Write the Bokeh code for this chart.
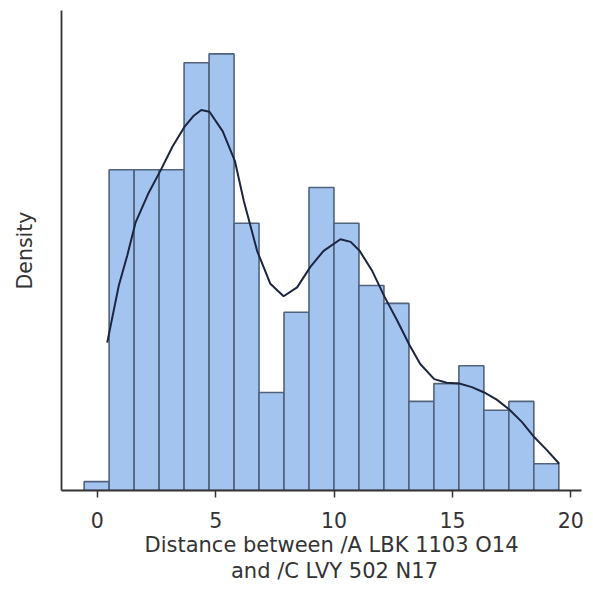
from bokeh.plotting import figure
from bokeh.models import Range1d, FixedTicker, Title, ColumnDataSource
from bokeh.embed import file_html
from bokeh.resources import INLINE

# ---- data ----
bin_start = -0.553
bin_width = 1.055
counts = [1, 36, 36, 36, 48, 49, 30, 11, 20, 34, 30, 23, 21, 10, 12, 14, 9, 10, 3]

# KDE curve (x, height in count units)
kde_x = [0.42, 0.91, 1.27, 1.62, 2.15, 2.67, 3.18, 3.68, 4.05, 4.39, 4.74, 5.30,
         5.81, 6.19, 6.75, 7.31, 7.87, 8.44, 9.00, 9.56, 10.27, 10.70, 11.08,
         11.62, 12.14, 12.66, 13.19, 13.64, 14.23, 14.76, 15.29, 15.82, 16.34,
         16.87, 17.40, 17.93, 18.45, 19.00, 19.51]
kde_c = [16.6, 23.0, 26.4, 30.1, 33.3, 35.9, 38.6, 40.8, 42.0, 42.7, 42.5, 40.3,
         37.0, 32.5, 26.9, 23.2, 21.8, 22.8, 25.1, 26.9, 28.2, 27.9, 26.9,
         24.6, 21.7, 19.1, 16.3, 14.2, 12.5, 12.1, 12.0, 11.6, 11.0,
         10.2, 9.1, 7.7, 6.0, 4.5, 3.0]

x_ticks = [0, 5, 10, 15, 20]
x_label_lines = ["Distance between /A LBK 1103 O14", "and /C LVY 502 N17"]
y_label = "Density"

# ---- derived ----
n_total = sum(counts)
scale = 1.0 / (n_total * bin_width)
lefts = [bin_start + i * bin_width for i in range(len(counts))]
rights = [l + bin_width for l in lefts]
dens = [c * scale for c in counts]
kde_y = [c * scale for c in kde_c]
y_top = 53.87 * scale

FONT = "DejaVu Sans"
TXT = "#333333"

p = figure(frame_width=520, frame_height=480,
           x_range=Range1d(-1.51, 20.45), y_range=Range1d(0, y_top),
           output_backend="svg", toolbar_location=None,
           min_border_left=61, min_border_right=12, min_border_top=10,
           min_border_bottom=0)
p.outline_line_color = None
p.grid.grid_line_color = None
p.background_fill_color = "white"
p.border_fill_color = "white"

src = ColumnDataSource(dict(left=lefts, right=rights, top=dens))
p.quad(left="left", right="right", bottom=0, top="top", source=src,
       fill_color="#a4c4f0", line_color="#50627c", line_width=1.6)
p.line(kde_x, kde_y, line_color="#1c2540", line_width=2)

ax = p.xaxis[0]
ax.ticker = FixedTicker(ticks=x_ticks)
ax.minor_tick_line_color = None
ax.major_tick_out = 7
ax.major_tick_in = 0
ax.major_tick_line_color = TXT
ax.major_tick_line_width = 1.5
ax.axis_line_color = TXT
ax.axis_line_width = 1.8
ax.major_label_text_font = FONT
ax.major_label_text_font_size = "20.5px"
ax.major_label_text_color = TXT
ax.major_label_standoff = 14

ay = p.yaxis[0]
ay.ticker = FixedTicker(ticks=[])
ay.minor_tick_line_color = None
ay.major_tick_out = 0
ay.major_tick_in = 0
ay.axis_line_color = TXT
ay.axis_line_width = 1.8
ay.axis_label = y_label
ay.axis_label_text_font = FONT
ay.axis_label_text_font_size = "20.5px"
ay.axis_label_text_font_style = "normal"
ay.axis_label_text_color = TXT
ay.axis_label_standoff = 25

for txt, off in zip(x_label_lines, [83, 169.5]):
    t = Title(text=txt, align="left", offset=off, text_font=FONT,
              text_font_size="21px", text_font_style="normal",
              text_color=TXT, standoff=0)
    p.add_layout(t, "below")

open("out.html", "w").write(file_html(p, INLINE))
